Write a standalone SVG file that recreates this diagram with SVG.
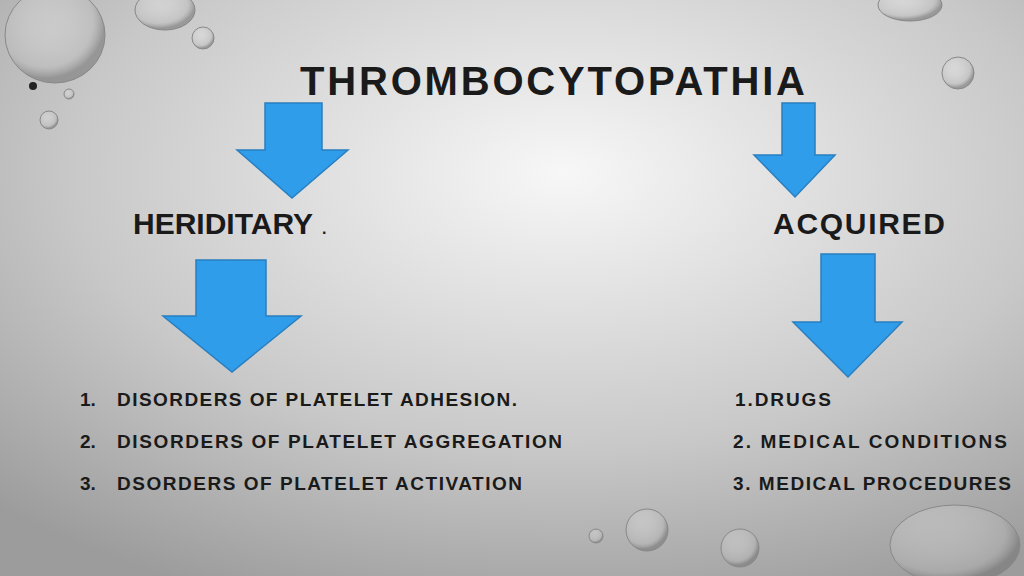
<svg xmlns="http://www.w3.org/2000/svg" width="1024" height="576" viewBox="0 0 1024 576">
<defs>
<radialGradient id="bg" cx="0.55" cy="0.3" r="0.8">
<stop offset="0" stop-color="#f7f7f7"/><stop offset="0.6" stop-color="#c8c8c8"/><stop offset="1" stop-color="#9c9c9c"/>
</radialGradient>
<radialGradient id="bub" cx="0.4" cy="0.35" r="0.6">
<stop offset="0" stop-color="#ffffff" stop-opacity="0.2"/><stop offset="0.8" stop-color="#bbbbbb" stop-opacity="0.4"/><stop offset="1" stop-color="#777777" stop-opacity="0.6"/>
</radialGradient>
<style>
.ar{fill:#2f9de9;stroke:#2a7fc0;stroke-width:1.5}
.t{font-family:"Liberation Sans",Arial,sans-serif;font-weight:bold;fill:#1a1a1a}
.b{fill:url(#bub);stroke:#888;stroke-width:1}
</style>
</defs>
<rect width="1024" height="576" fill="url(#bg)"/>
<g id="bubbles">
<ellipse class="b" cx="55" cy="35" rx="50" ry="48"/>
<ellipse class="b" cx="165" cy="10" rx="30" ry="20"/>
<circle class="b" cx="203" cy="38" r="11"/>
<circle class="b" cx="49" cy="120" r="9"/>
<circle class="b" cx="69" cy="94" r="5"/>
<circle class="b" cx="958" cy="73" r="16"/>
<ellipse class="b" cx="910" cy="5" rx="32" ry="16"/>
<circle class="b" cx="647" cy="530" r="21"/>
<circle class="b" cx="740" cy="548" r="19"/>
<circle class="b" cx="596" cy="536" r="7"/>
<ellipse class="b" cx="955" cy="545" rx="65" ry="40"/>
</g>
<circle cx="33" cy="86" r="4" fill="#222"/>
<g id="title"><text class="t" x="300" y="95" font-size="40" textLength="505">THROMBOCYTOPATHIA</text></g>
<g id="connectors">
<polygon class="ar" points="265,103 322,103 322,150 348,150 292,198 237,150 265,150"/>
<polygon class="ar" points="782,103 815,103 815,155 835,155 795,197 754,155 782,155"/>
<polygon class="ar" points="196,260 266,260 266,316 301,316 232,372 163,316 196,316"/>
<polygon class="ar" points="821,254 875,254 875,322 902,322 848,377 793,322 821,322"/>
</g>
<g id="heriditary"><text class="t" x="133" y="234" font-size="30" textLength="180">HERIDITARY</text><text class="t" x="322" y="234" font-size="16">.</text></g>
<g id="acquired"><text class="t" x="773" y="234" font-size="30" textLength="172">ACQUIRED</text></g>
<g id="hlist" class="t" font-size="19">
<text class="t" x="80" y="406">1.</text><text class="t" x="117" y="406" textLength="400">DISORDERS OF PLATELET ADHESION.</text>
<text class="t" x="80" y="448">2.</text><text class="t" x="117" y="448" textLength="445">DISORDERS OF PLATELET AGGREGATION</text>
<text class="t" x="80" y="490">3.</text><text class="t" x="117" y="490" textLength="405">DSORDERS OF PLATELET ACTIVATION</text>
</g>
<g id="alist" font-size="19">
<text class="t" x="735" y="406" textLength="96">1.DRUGS</text>
<text class="t" x="733" y="448" textLength="274">2. MEDICAL CONDITIONS</text>
<text class="t" x="733" y="490" textLength="278">3. MEDICAL PROCEDURES</text>
</g>
</svg>
